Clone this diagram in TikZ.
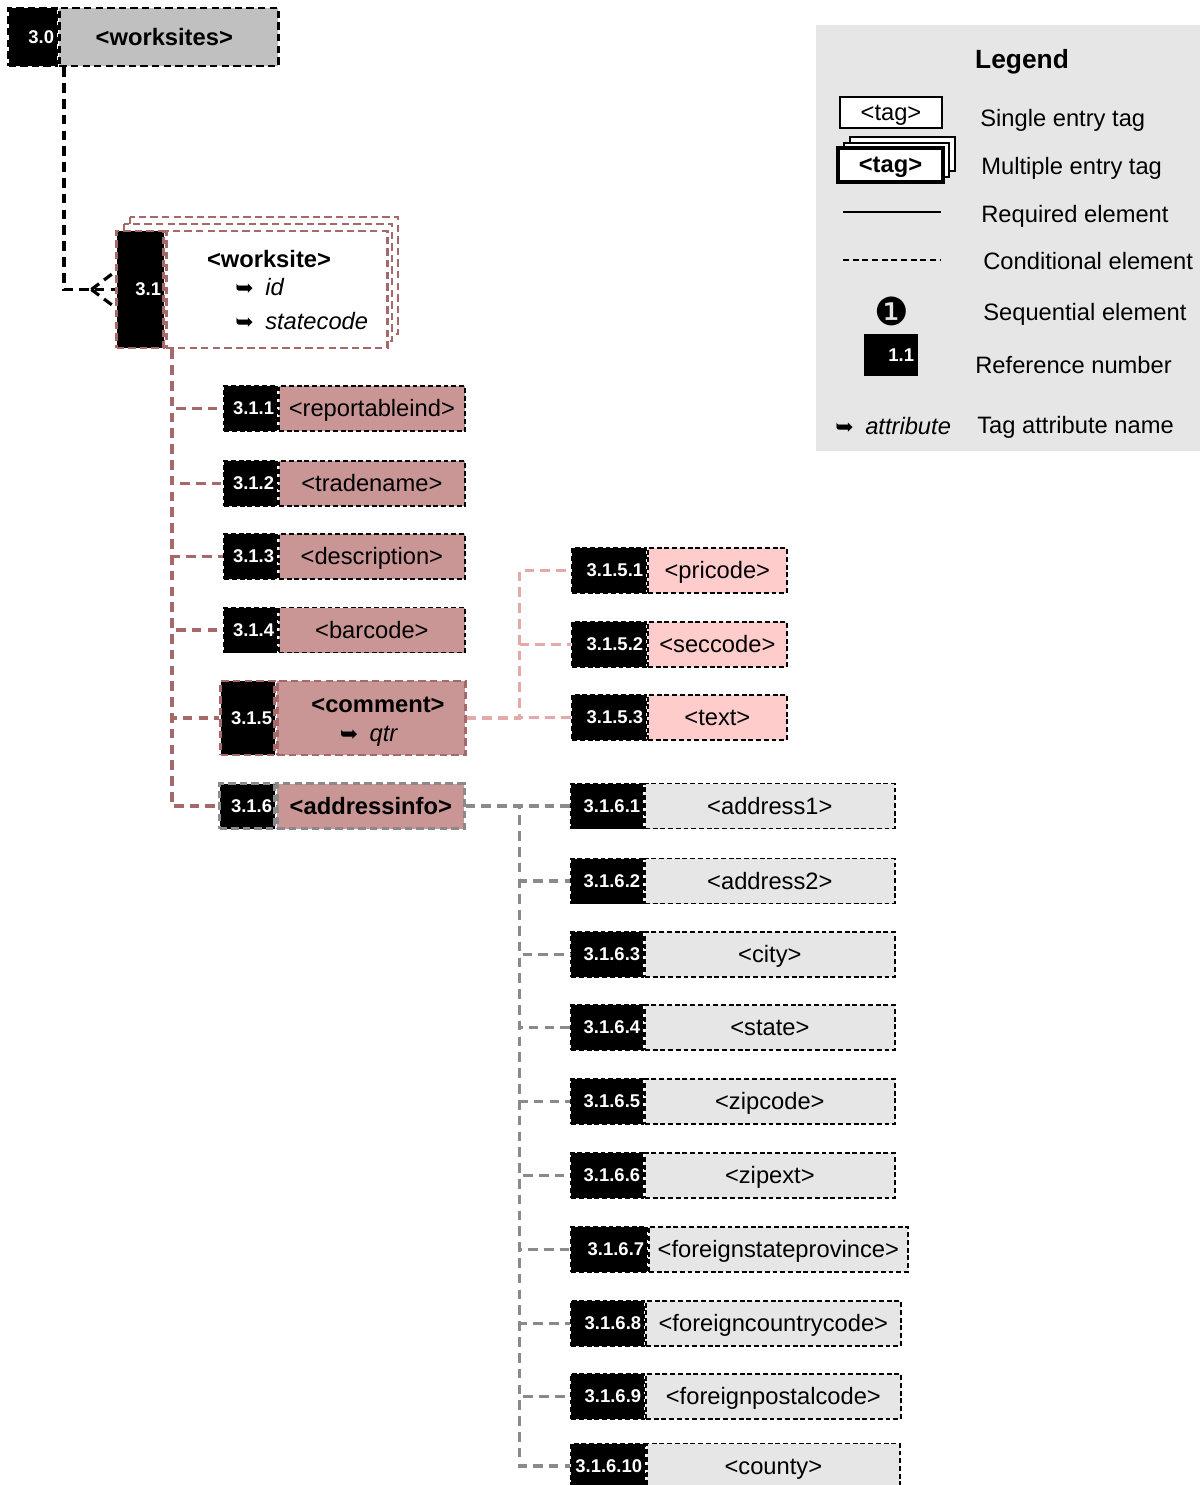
\documentclass[tikz,border=0pt]{standalone}
\usepackage{fontspec}
\setmainfont{Liberation Sans}
\newfontfamily\symfont{DejaVu Sans}
\usepackage{tikz}
\usetikzlibrary{positioning}

\definecolor{wsgray}{RGB}{192,192,192}
\definecolor{rose}{RGB}{201,149,149}
\definecolor{pinklt}{RGB}{255,204,204}
\definecolor{lightgr}{RGB}{230,230,230}
\definecolor{brline}{RGB}{165,105,105}
\definecolor{pkline}{RGB}{228,170,170}
\definecolor{gyline}{RGB}{138,138,138}

\newcommand{\tagfont}{\fontsize{13.5}{16}\selectfont}
\newcommand{\numfont}{\fontsize{10.5}{12}\selectfont\bfseries}
\newcommand{\attrarr}{{\symfont\fontsize{12.5}{12}\selectfont\char"27A5}\hspace{0.23cm}}

\tikzset{
  boxdash/.style={line width=1pt, dash pattern=on 2.8pt off 1.6pt},
  thickdash/.style={line width=1.5pt, dash pattern=on 4.2pt off 2.4pt},
  conn/.style={line width=1.8pt, dash pattern=on 5.5pt off 3.5pt},
  txt/.style={inner sep=0pt, font=\tagfont},
  reflbl/.style={anchor=east, text=white, inner sep=2pt, font=\numfont},
  refno/.style={fill=black, draw=black, boxdash, inner sep=0pt,
    minimum height=0.9cm, label={[reflbl]east:#1}},
  tagbox/.style={draw=black, boxdash, inner sep=0pt, minimum height=0.9cm,
    text height=11.5pt, text depth=2pt, anchor=west, font=\tagfont},
  stackbox/.style={draw=brline, thickdash, fill=white}
}

\begin{document}
\begin{tikzpicture}[x=0.02cm, y=-0.02cm]
        \clip (0,0) rectangle (1200,1485);

        \node[tagbox, fill=wsgray, thickdash, minimum width=4.38cm, minimum height=1.16cm, font=\tagfont\bfseries] (t30) at (58,37) {<worksites>\hspace*{0.18cm}};
        \node[refno=3.0, thickdash, minimum width=0.96cm, minimum height=1.16cm, left=0pt of t30] (r30) {};

        \draw[stackbox] (130,217) rectangle (398,334);
        \draw[stackbox] (124,224) rectangle (392,341);
        \node[tagbox, draw=brline, thickdash, fill=white, minimum width=4.42cm, minimum height=2.34cm] (t31) at (165,289.5) {};
        \node[refno=3.1, draw=brline, thickdash, minimum width=0.94cm, minimum height=2.34cm, left=0pt of t31] (r31) {};
        \node[txt, font=\tagfont\bfseries] (n31) at (269,259) {<worksite>};
        \node[txt, anchor=west] (a31id) at (235,287) {\attrarr\textit{id}};
        \node[txt, anchor=west] (a31sc) at (235,321) {\attrarr\textit{statecode}};

        \node[tagbox, fill=rose, minimum width=3.72cm] (t311) at (278,408.5) {<reportableind>};
        \node[refno=3.1.1, minimum width=1.06cm, left=0pt of t311] (r311) {};
        \node[tagbox, fill=rose, minimum width=3.72cm] (t312) at (278,483.5) {<tradename>};
        \node[refno=3.1.2, minimum width=1.06cm, left=0pt of t312] (r312) {};
        \node[tagbox, fill=rose, minimum width=3.72cm] (t313) at (278,556.5) {<description>};
        \node[refno=3.1.3, minimum width=1.06cm, left=0pt of t313] (r313) {};
        \node[tagbox, fill=rose, minimum width=3.72cm] (t314) at (278,630) {<barcode>};
        \node[refno=3.1.4, minimum width=1.06cm, left=0pt of t314] (r314) {};
        \node[tagbox, fill=rose, draw=brline, thickdash, minimum width=3.76cm, minimum height=1.48cm] (t315) at (276,718) {};
        \node[refno=3.1.5, draw=brline, thickdash, minimum width=1.08cm, minimum height=1.48cm, left=0pt of t315] (r315) {};
        \node[txt, font=\tagfont\bfseries] (n315) at (378,705) {<comment>};
        \node[txt] (a315) at (369,736) {\attrarr\textit{qtr}};
        \node[tagbox, fill=rose, draw=gyline, thickdash, minimum width=3.74cm, font=\tagfont\bfseries] (t316) at (276,806) {<addressinfo>};
        \node[refno=3.1.6, draw=gyline, thickdash, minimum width=1.1cm, left=0pt of t316] (r316) {};

        \node[tagbox, fill=pinklt, minimum width=2.78cm] (t3151) at (647,570.5) {<pricode>};
        \node[refno=3.1.5.1, minimum width=1.48cm, left=0pt of t3151] (r3151) {};
        \node[tagbox, fill=pinklt, minimum width=2.78cm] (t3152) at (647,644.5) {<seccode>};
        \node[refno=3.1.5.2, minimum width=1.48cm, left=0pt of t3152] (r3152) {};
        \node[tagbox, fill=pinklt, minimum width=2.78cm] (t3153) at (647,717.5) {<text>};
        \node[refno=3.1.5.3, minimum width=1.48cm, left=0pt of t3153] (r3153) {};

        \node[tagbox, fill=lightgr, minimum width=5cm] (t3161) at (644,806) {<address1>};
        \node[refno=3.1.6.1, minimum width=1.44cm, left=0pt of t3161] (r3161) {};
        \node[tagbox, fill=lightgr, minimum width=5cm] (t3162) at (644,881) {<address2>};
        \node[refno=3.1.6.2, minimum width=1.44cm, left=0pt of t3162] (r3162) {};
        \node[tagbox, fill=lightgr, minimum width=5cm] (t3163) at (644,954.5) {<city>};
        \node[refno=3.1.6.3, minimum width=1.44cm, left=0pt of t3163] (r3163) {};
        \node[tagbox, fill=lightgr, minimum width=5cm] (t3164) at (644,1027.5) {<state>};
        \node[refno=3.1.6.4, minimum width=1.44cm, left=0pt of t3164] (r3164) {};
        \node[tagbox, fill=lightgr, minimum width=5cm] (t3165) at (644,1101.5) {<zipcode>};
        \node[refno=3.1.6.5, minimum width=1.44cm, left=0pt of t3165] (r3165) {};
        \node[tagbox, fill=lightgr, minimum width=5cm] (t3166) at (644,1175.5) {<zipext>};
        \node[refno=3.1.6.6, minimum width=1.44cm, left=0pt of t3166] (r3166) {};
        \node[tagbox, fill=lightgr, minimum width=5.18cm] (t3167) at (648,1249.5) {<foreignstateprovince>};
        \node[refno=3.1.6.7, minimum width=1.52cm, left=0pt of t3167] (r3167) {};
        \node[tagbox, fill=lightgr, minimum width=5.1cm] (t3168) at (645,1323.5) {<foreigncountrycode>};
        \node[refno=3.1.6.8, minimum width=1.46cm, left=0pt of t3168] (r3168) {};
        \node[tagbox, fill=lightgr, minimum width=5.1cm] (t3169) at (645,1396.5) {<foreignpostalcode>};
        \node[refno=3.1.6.9, minimum width=1.46cm, left=0pt of t3169] (r3169) {};
        \node[tagbox, fill=lightgr, minimum width=5.06cm] (t31610) at (646,1466) {<county>};
        \node[refno=3.1.6.10, minimum width=1.48cm, left=0pt of t31610] (r31610) {};

        % connectors
        \draw[conn] (r30.south east) ++(6,0) |- (r31.west);
        \draw[conn] (r31.west) ++(-24,0) -- ++(24,-18);
        \draw[conn] (r31.west) ++(-24,0) -- ++(24,18);

        \draw[conn, brline] (t31.south west) ++(7,0) |- (r311.west);
        \draw[conn, brline] (t31.south west) ++(7,0) |- (r312.west);
        \draw[conn, brline] (t31.south west) ++(7,0) |- (r313.west);
        \draw[conn, brline] (t31.south west) ++(7,0) |- (r314.west);
        \draw[conn, brline] (t31.south west) ++(7,0) |- (r315.west);
        \draw[conn, brline] (t31.south west) ++(7,0) |- (r316.west);

        \draw[conn, pkline] (t315.east) -- ++(53,0) |- (r3151.west);
        \draw[conn, pkline] (t315.east) -- ++(53,0) |- (r3152.west);
        \draw[conn, pkline] (t315.east) -- ++(53,0) |- (r3153.west);

        \draw[conn, gyline] (t316.east) -- ++(54,0) |- (r3161.west);
        \draw[conn, gyline] (t316.east) -- ++(54,0) |- (r3162.west);
        \draw[conn, gyline] (t316.east) -- ++(54,0) |- (r3163.west);
        \draw[conn, gyline] (t316.east) -- ++(54,0) |- (r3164.west);
        \draw[conn, gyline] (t316.east) -- ++(54,0) |- (r3165.west);
        \draw[conn, gyline] (t316.east) -- ++(54,0) |- (r3166.west);
        \draw[conn, gyline] (t316.east) -- ++(54,0) |- (r3167.west);
        \draw[conn, gyline] (t316.east) -- ++(54,0) |- (r3168.west);
        \draw[conn, gyline] (t316.east) -- ++(54,0) |- (r3169.west);
        \draw[conn, gyline] (t316.east) -- ++(54,0) |- (r31610.west);

        % legend
        \fill[lightgr] (816,25) rectangle (1200,451);
        \node[txt, font=\fontsize{15}{18}\selectfont\bfseries] (lgtitle) at (1022,62) {Legend};
        \node[draw, line width=1.2pt, fill=white, inner sep=0pt, minimum width=2.04cm, minimum height=0.62cm, text height=11pt, text depth=2pt, font=\tagfont] (lgsingle) at (891,112.5) {<tag>};
        \draw[line width=1.6pt, fill=white] (850,137) rectangle (955,171);
        \draw[line width=1.6pt, fill=white] (844,143) rectangle (949,177);
        \node[draw, line width=2pt, fill=white, inner sep=0pt, minimum width=2.1cm, minimum height=0.68cm, text height=11pt, text depth=2pt, font=\tagfont\bfseries] (lgmulti) at (890.5,165) {<tag>};
        \coordinate (lgreqa) at (843,212);
        \coordinate (lgreqb) at (941,212);
        \draw[line width=1pt] (lgreqa) -- (lgreqb);
        \coordinate (lgcona) at (843,260);
        \coordinate (lgconb) at (941,260);
        \draw[line width=1pt, dash pattern=on 3.5pt off 2pt] (lgcona) -- (lgconb);
        \node[txt, font=\symfont\fontsize{22}{24}\selectfont] (lgseq) at (892,311) {\char"2776};
        \node[refno=1.1, solid, minimum width=1.04cm, minimum height=0.8cm] (lgref) at (891,355) {};
        \node[txt, anchor=west] (lgattr) at (835,426) {\attrarr\textit{attribute}};
        \node[txt, anchor=west] (lgl1) at (980,120) {Single entry tag};
        \node[txt, anchor=west] (lgl2) at (981,168) {Multiple entry tag};
        \node[txt, anchor=west] (lgl3) at (981,216) {Required element};
        \node[txt, anchor=west] (lgl4) at (983,261) {Conditional element};
        \node[txt, anchor=west] (lgl5) at (983,314) {Sequential element};
        \node[txt, anchor=west] (lgl6) at (975,365) {Reference number};
        \node[txt, anchor=west] (lgl7) at (977,427) {Tag attribute name};
\end{tikzpicture}
\end{document}
